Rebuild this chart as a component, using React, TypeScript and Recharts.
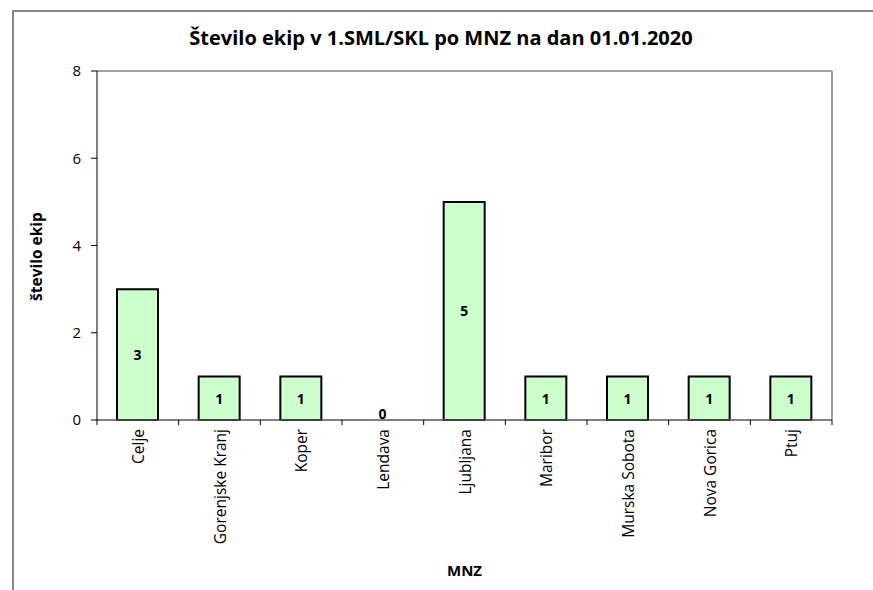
import React from 'react'
import { BarChart, Bar, XAxis, YAxis, LabelList, Label, Cell, ReferenceLine } from 'recharts'

const categories = ['Celje', 'Gorenjske Kranj', 'Koper', 'Lendava', 'Ljubljana', 'Maribor', 'Murska Sobota', 'Nova Gorica', 'Ptuj']
const ekipe = [3, 1, 1, 0, 5, 1, 1, 1, 1]
const yTicks = [0, 2, 4, 6, 8]

const data = categories.map((mnz, i) => ({ mnz, ekipe: ekipe[i] }))

const font = "'Open Sans', sans-serif"
const W = 873
const H = 590
const plotLeft = 97
const plotRight = 832
const plotTop = 71
const bandW = (plotRight - plotLeft) / categories.length

function CategoryTick(props: any) {
  const { x, y, payload, index } = props
  return (
    <g>
      {index === 0 && <line x1={x - bandW / 2} x2={x - bandW / 2} y1={y} y2={y + 5} stroke="#000" />}
      <line x1={x + bandW / 2} x2={x + bandW / 2} y1={y} y2={y + 5} stroke="#000" />
      <text
        transform={`translate(${x},${y + 9}) rotate(-90)`}
        textAnchor="end"
        dominantBaseline="central"
        fontSize={15.5}
        fontFamily={font}
        fill="#000"
      >
        {payload.value}
      </text>
    </g>
  )
}

// right edge of the plot area: a reference line on the last category shifted half a band
function RightEdge(props: any) {
  const { x1, y1, y2 } = props
  return <line x1={x1 + bandW / 2} x2={x1 + bandW / 2} y1={y1} y2={y2} stroke="#a0a0a0" strokeWidth={2} />
}

function ValueLabel(props: any) {
  const { x, y, width, height, value } = props
  const ty = Number(value) === 0 ? y - 6 : y + height / 2
  return (
    <text x={x + width / 2} y={ty} textAnchor="middle" dominantBaseline="central" fontSize={14} fontWeight="bold" fontFamily={font} fill="#000">
      {String(value)}
    </text>
  )
}

function YTitle(props: any) {
  const vb = props.viewBox || {}
  const cy = vb.y + vb.height / 2 + 11
  return (
    <text
      transform={`translate(36,${cy}) rotate(-90)`}
      textAnchor="middle"
      dominantBaseline="central"
      fontSize={15.5}
      fontWeight="bold"
      fontFamily={font}
      fill="#000"
    >
      število ekip
    </text>
  )
}

export default function App() {
  return (
    <div style={{ position: 'absolute', left: 0, top: 0, width: W, height: H, background: '#fff', overflow: 'hidden' }}>
      <div style={{ position: 'absolute', left: 12, top: 10, width: W, height: H, borderLeft: '2px solid #868686', borderTop: '2px solid #868686' }} />
      <div style={{ position: 'absolute', left: 0, top: 25, width: 882, textAlign: 'center', fontFamily: font, fontWeight: 'bold', fontSize: 20, lineHeight: '26px', color: '#000' }}>
        Število ekip v 1.SML/SKL po MNZ na dan 01.01.2020
      </div>
      <div style={{ position: 'absolute', left: 0, top: 0 }}>
        <BarChart width={W} height={H} data={data} margin={{ top: plotTop, right: W - plotRight, left: 37, bottom: 20 }}>
          <ReferenceLine y={8} stroke="#a0a0a0" strokeWidth={2} />
          <ReferenceLine x={categories[categories.length - 1]} shape={<RightEdge />} />
          <XAxis
            dataKey="mnz"
            height={150}
            interval={0}
            tickSize={0}
            tickMargin={0}
            tickLine={false}
            tick={<CategoryTick />}
            axisLine={{ stroke: '#555', strokeWidth: 1.5 }}
          >
            <Label value="MNZ" position="insideBottom" offset={-6} fontSize={15} fontWeight="bold" fontFamily={font} fill="#000" />
          </XAxis>
          <YAxis
            width={60}
            domain={[0, 8]}
            ticks={yTicks}
            interval={0}
            tickSize={6}
            tickMargin={10}
            tick={{ fontSize: 15, fontFamily: font, fill: '#000' }}
            tickLine={{ stroke: '#000' }}
            axisLine={{ stroke: '#000' }}
          >
            <Label content={<YTitle />} />
          </YAxis>
          <Bar
            dataKey="ekipe"
            barSize={41}
            fill="#CCFFCC"
            stroke="#000"
            strokeWidth={2}
            minPointSize={(v: number) => (v === 0 ? 0.01 : 0)}
            isAnimationActive={false}
          >
            {data.map((d) => (
              <Cell key={d.mnz} stroke={d.ekipe === 0 ? 'none' : '#000'} />
            ))}
            <LabelList dataKey="ekipe" content={<ValueLabel />} />
          </Bar>
        </BarChart>
      </div>
    </div>
  )
}
